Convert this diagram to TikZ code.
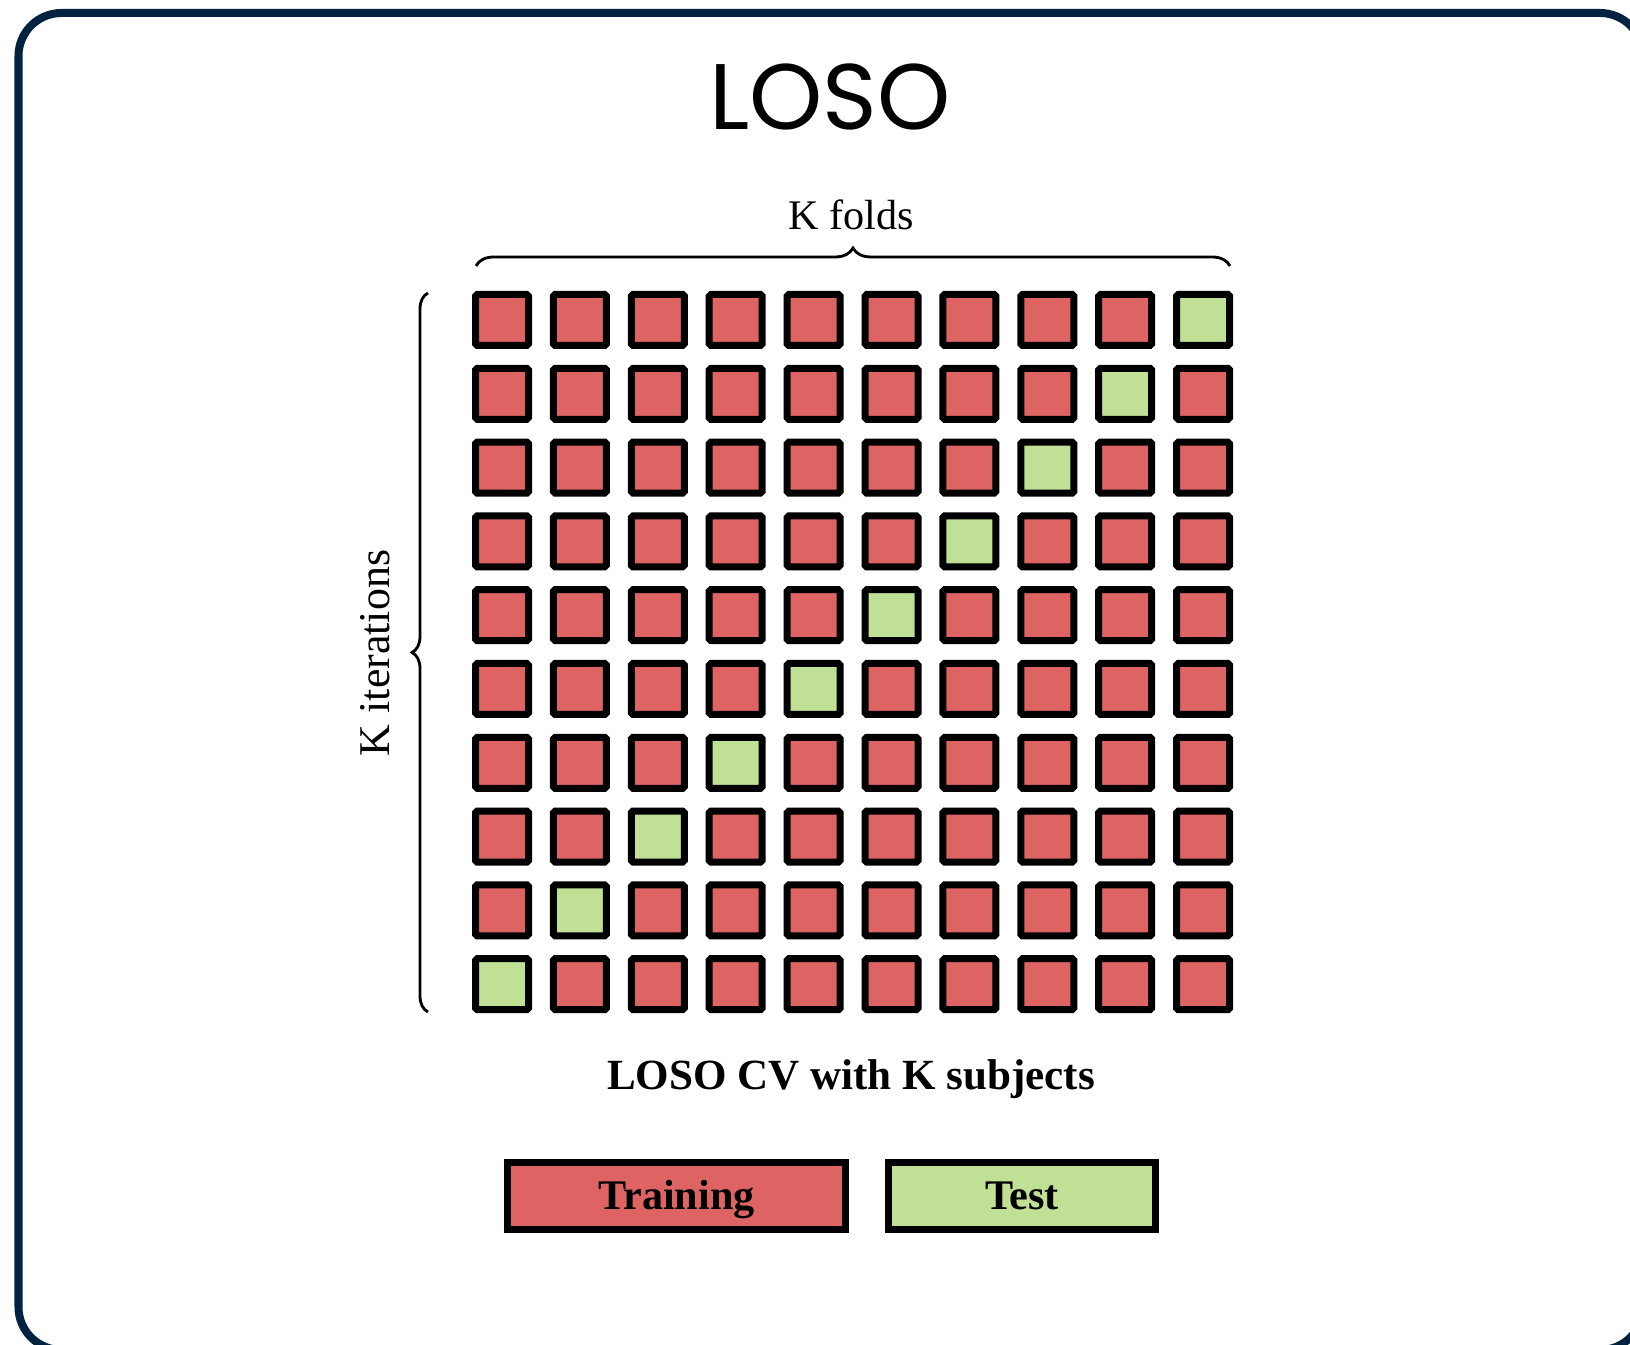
\documentclass[tikz,border=0pt]{standalone}
\usepackage{fontspec}
\setmainfont{Liberation Serif}
\newfontfamily\titlefont{Poppins}
\usetikzlibrary{decorations.pathreplacing}
\definecolor{framenavy}{RGB}{2,34,64}
\definecolor{trainred}{RGB}{222,99,99}
\definecolor{testgreen}{RGB}{191,224,149}

\begin{document}
\begin{tikzpicture}[x=1cm,y=1cm,
  cell/.style={draw=black,line width=0.14cm,rounded corners=1pt,
    minimum width=1.06cm,minimum height=1.02cm,inner sep=0pt},
  keybox/.style={draw=black,line width=0.14cm,minimum height=1.34cm,inner sep=0pt,
    text height=15.8pt,text depth=0pt,font=\fontsize{24}{28}\selectfont\bfseries},
  kbrace/.style={decorate,decoration={brace,amplitude=#1},line width=1.6pt}]
  % Canvas ~1630x1344
  \useasboundingbox (0,0) rectangle (32.6,26.88);
  \clip (0,0) rectangle (32.6,26.88);

  % Outer card frame (runs off the right / bottom edge)
  \draw[framenavy,line width=0.16cm,rounded corners=0.86cm]
    (0.37,26.62) rectangle (32.86,-0.12);

  % Title
  \node[font=\titlefont\fontsize{53}{58}\selectfont,anchor=base] (title) at (16.6,24.28) {LOSO};

  % --- Fold grid: row r, column c; test fold on the anti-diagonal ---
  \foreach \r in {1,...,10} {
    \foreach \c [evaluate=\c as \k using int(\r+\c)] in {1,...,10} {
      \ifnum\k=11 \def\cellcol{testgreen}\else\def\cellcol{trainred}\fi
      \node[cell,fill=\cellcol] (c-\r-\c) at ({10.04+1.558*(\c-1)},{20.48-1.476*(\r-1)}) {};
    }
  }

  % Braces + axis labels
  \draw[kbrace=0.36cm] (9.52,21.56) -- (24.60,21.56);
  \node[font=\fontsize{24}{28}\selectfont,anchor=base] (folds) at (17.02,22.28) {K folds};
  \draw[kbrace=0.32cm] (8.56,6.64) -- (8.56,21.02);
  \node[font=\fontsize{25}{29}\selectfont,anchor=base,rotate=90] (iters) at (7.78,13.82) {K iterations};

  % Caption
  \node[font=\fontsize{24.5}{28}\selectfont\bfseries,anchor=base] (caption) at (17.02,5.08) {LOSO CV with K subjects};

  % Legend
  \node[keybox,fill=trainred,minimum width=6.76cm] (train) at (13.53,2.96) {Training};
  \node[keybox,fill=testgreen,minimum width=5.34cm] (test) at (20.44,2.96) {Test};

\end{tikzpicture}
\end{document}
